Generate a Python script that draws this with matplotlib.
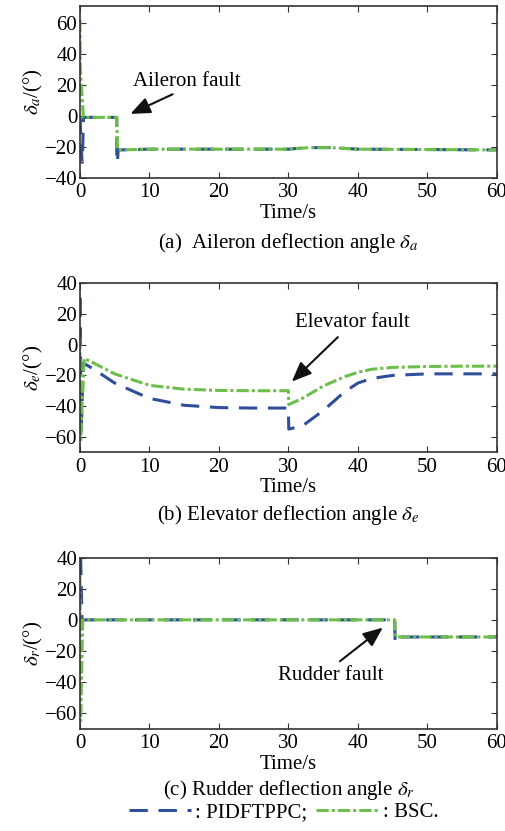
import numpy as np
import matplotlib
matplotlib.use("Agg")
import matplotlib.pyplot as plt
from matplotlib.lines import Line2D

plt.rcParams['font.family'] = ['Liberation Serif', 'DejaVu Serif']
plt.rcParams['mathtext.fontset'] = 'stix'

# (a) aileron
blue_a_t = [0, 0.3, 0.35, 0.5, 5.3, 5.3, 5.4, 5.5, 10, 30, 33, 36, 40, 60]
blue_a = [0, -30, -30, -1, -1, -30, -30, -22, -21.5, -21.5, -20.5, -20.5, -21.5, -22]
green_a_t = [0, 0.05, 0.5, 5.3, 5.4, 10, 30, 33, 36, 40, 60]
green_a = [62, 30, -1, -1, -22, -21.5, -21.5, -20.5, -20.5, -21.5, -22]

# (b) elevator
blue_b_t = [0, 0.05, 0.15, 0.5, 2, 5, 10, 15, 20, 25, 30, 30.05, 32, 35, 38, 40, 42, 45, 50, 55, 60]
blue_b = [30, 30, -60, -12, -16, -25, -35, -39.5, -41, -41.3, -41.3, -55, -53, -43, -31, -25, -22, -20, -19, -19, -19]
green_b_t = [0, 0.1, 0.6, 2, 5, 10, 15, 20, 25, 30, 30.05, 32, 35, 38, 40, 42, 45, 50, 55, 60]
green_b = [5, -62, -9, -12, -19, -26.5, -29, -29.8, -30, -30, -39, -35, -27, -21, -18, -16, -14.8, -14.2, -14, -14]

# (c) rudder
blue_c_t = [0, 0.1, 0.3, 45.3, 45.35, 45.6, 60]
blue_c = [40, 40, 0, 0, -14, -11, -11]
green_c_t = [0, 0.1, 0.4, 45.3, 45.4, 60]
green_c = [28, -65, 0, 0, -11, -11]

blue = '#2f4f9a'
green = '#6cbf4a'
blue_ls = (0, (6, 3.5))
green_ls = (0, (4, 1, 1, 1))

panels = [
    (blue_a_t, blue_a, green_a_t, green_a, (-40, 71), [-40, -20, 0, 20, 40, 60],
     r'$\delta_a$/(°)', r'(a)  Aileron deflection angle $\delta_a$', 243,
     'Aileron fault', (7.6, 22), (13.7, 14.7), (6.9, 0.5)),
    (blue_b_t, blue_b, green_b_t, green_b, (-70, 40), [-60, -40, -20, 0, 20, 40],
     r'$\delta_e$/(°)', r'(b) Elevator deflection angle $\delta_e$', 515,
     'Elevator fault', (30.9, 14.8), (37.4, 6.2), (30.2, -25.3)),
    (blue_c_t, blue_c, green_c_t, green_c, (-70, 40), [-60, -40, -20, 0, 20, 40],
     r'$\delta_r$/(°)', r'(c) Rudder deflection angle $\delta_r$', 790,
     'Rudder fault', (28.5, -36), (37.1, -27.7), (43.9, -3.9)),
]

H = 831
fig = plt.figure(figsize=(5.06, 8.31), dpi=100)
boxes = [[0.158, 0.786, 0.824, 0.207],
         [0.158, 0.456, 0.824, 0.203],
         [0.158, 0.123, 0.824, 0.206]]

for box, p in zip(boxes, panels):
    bt, bv, gt, gv, ylim, yt, ylab, cap, cap_y, note, txy, tail, head = p
    ax = fig.add_axes(box)
    ax.plot(bt, bv, color=blue, lw=2.2, ls=blue_ls)
    ax.plot(gt, gv, color=green, lw=2.2, ls=green_ls)
    ax.set_xlim(0, 60)
    ax.set_ylim(*ylim)
    ax.set_xticks(range(0, 61, 10))
    ax.set_yticks(yt)
    ax.tick_params(direction='in', top=True, right=True, labelsize=15, length=4,
                   color='#333333', labelcolor='black', pad=2)
    ax.tick_params(axis='x', pad=4)
    for s in ax.spines.values():
        s.set_linewidth(1.2)
        s.set_color('#333333')
    ax.set_xlabel('Time/s', fontsize=15, labelpad=1)
    ax.set_ylabel(ylab, fontsize=15, labelpad=0)
    fig.text(box[0] + box[2] / 2, 1 - cap_y / H, cap, ha='center', va='center', fontsize=15)
    ax.text(txy[0], txy[1], note, fontsize=15, va='center', ha='left')
    ax.annotate('', xy=head, xytext=tail,
                arrowprops=dict(arrowstyle='-|>,head_length=1.2,head_width=0.5',
                                color='#111111', lw=1.5))

h1 = Line2D([], [], color=blue, lw=2.2, ls=blue_ls)
h2 = Line2D([], [], color=green, lw=2.2, ls=green_ls)
fig.legend([h1, h2], [': PIDFTPPC;', ': BSC.'], loc='center', bbox_to_anchor=(0.56, 1 - 812 / H),
           ncol=2, frameon=False, fontsize=15, handlelength=3.0, handletextpad=0.2,
           columnspacing=0.4, borderaxespad=0)

fig.savefig('out.png', dpi=100)
